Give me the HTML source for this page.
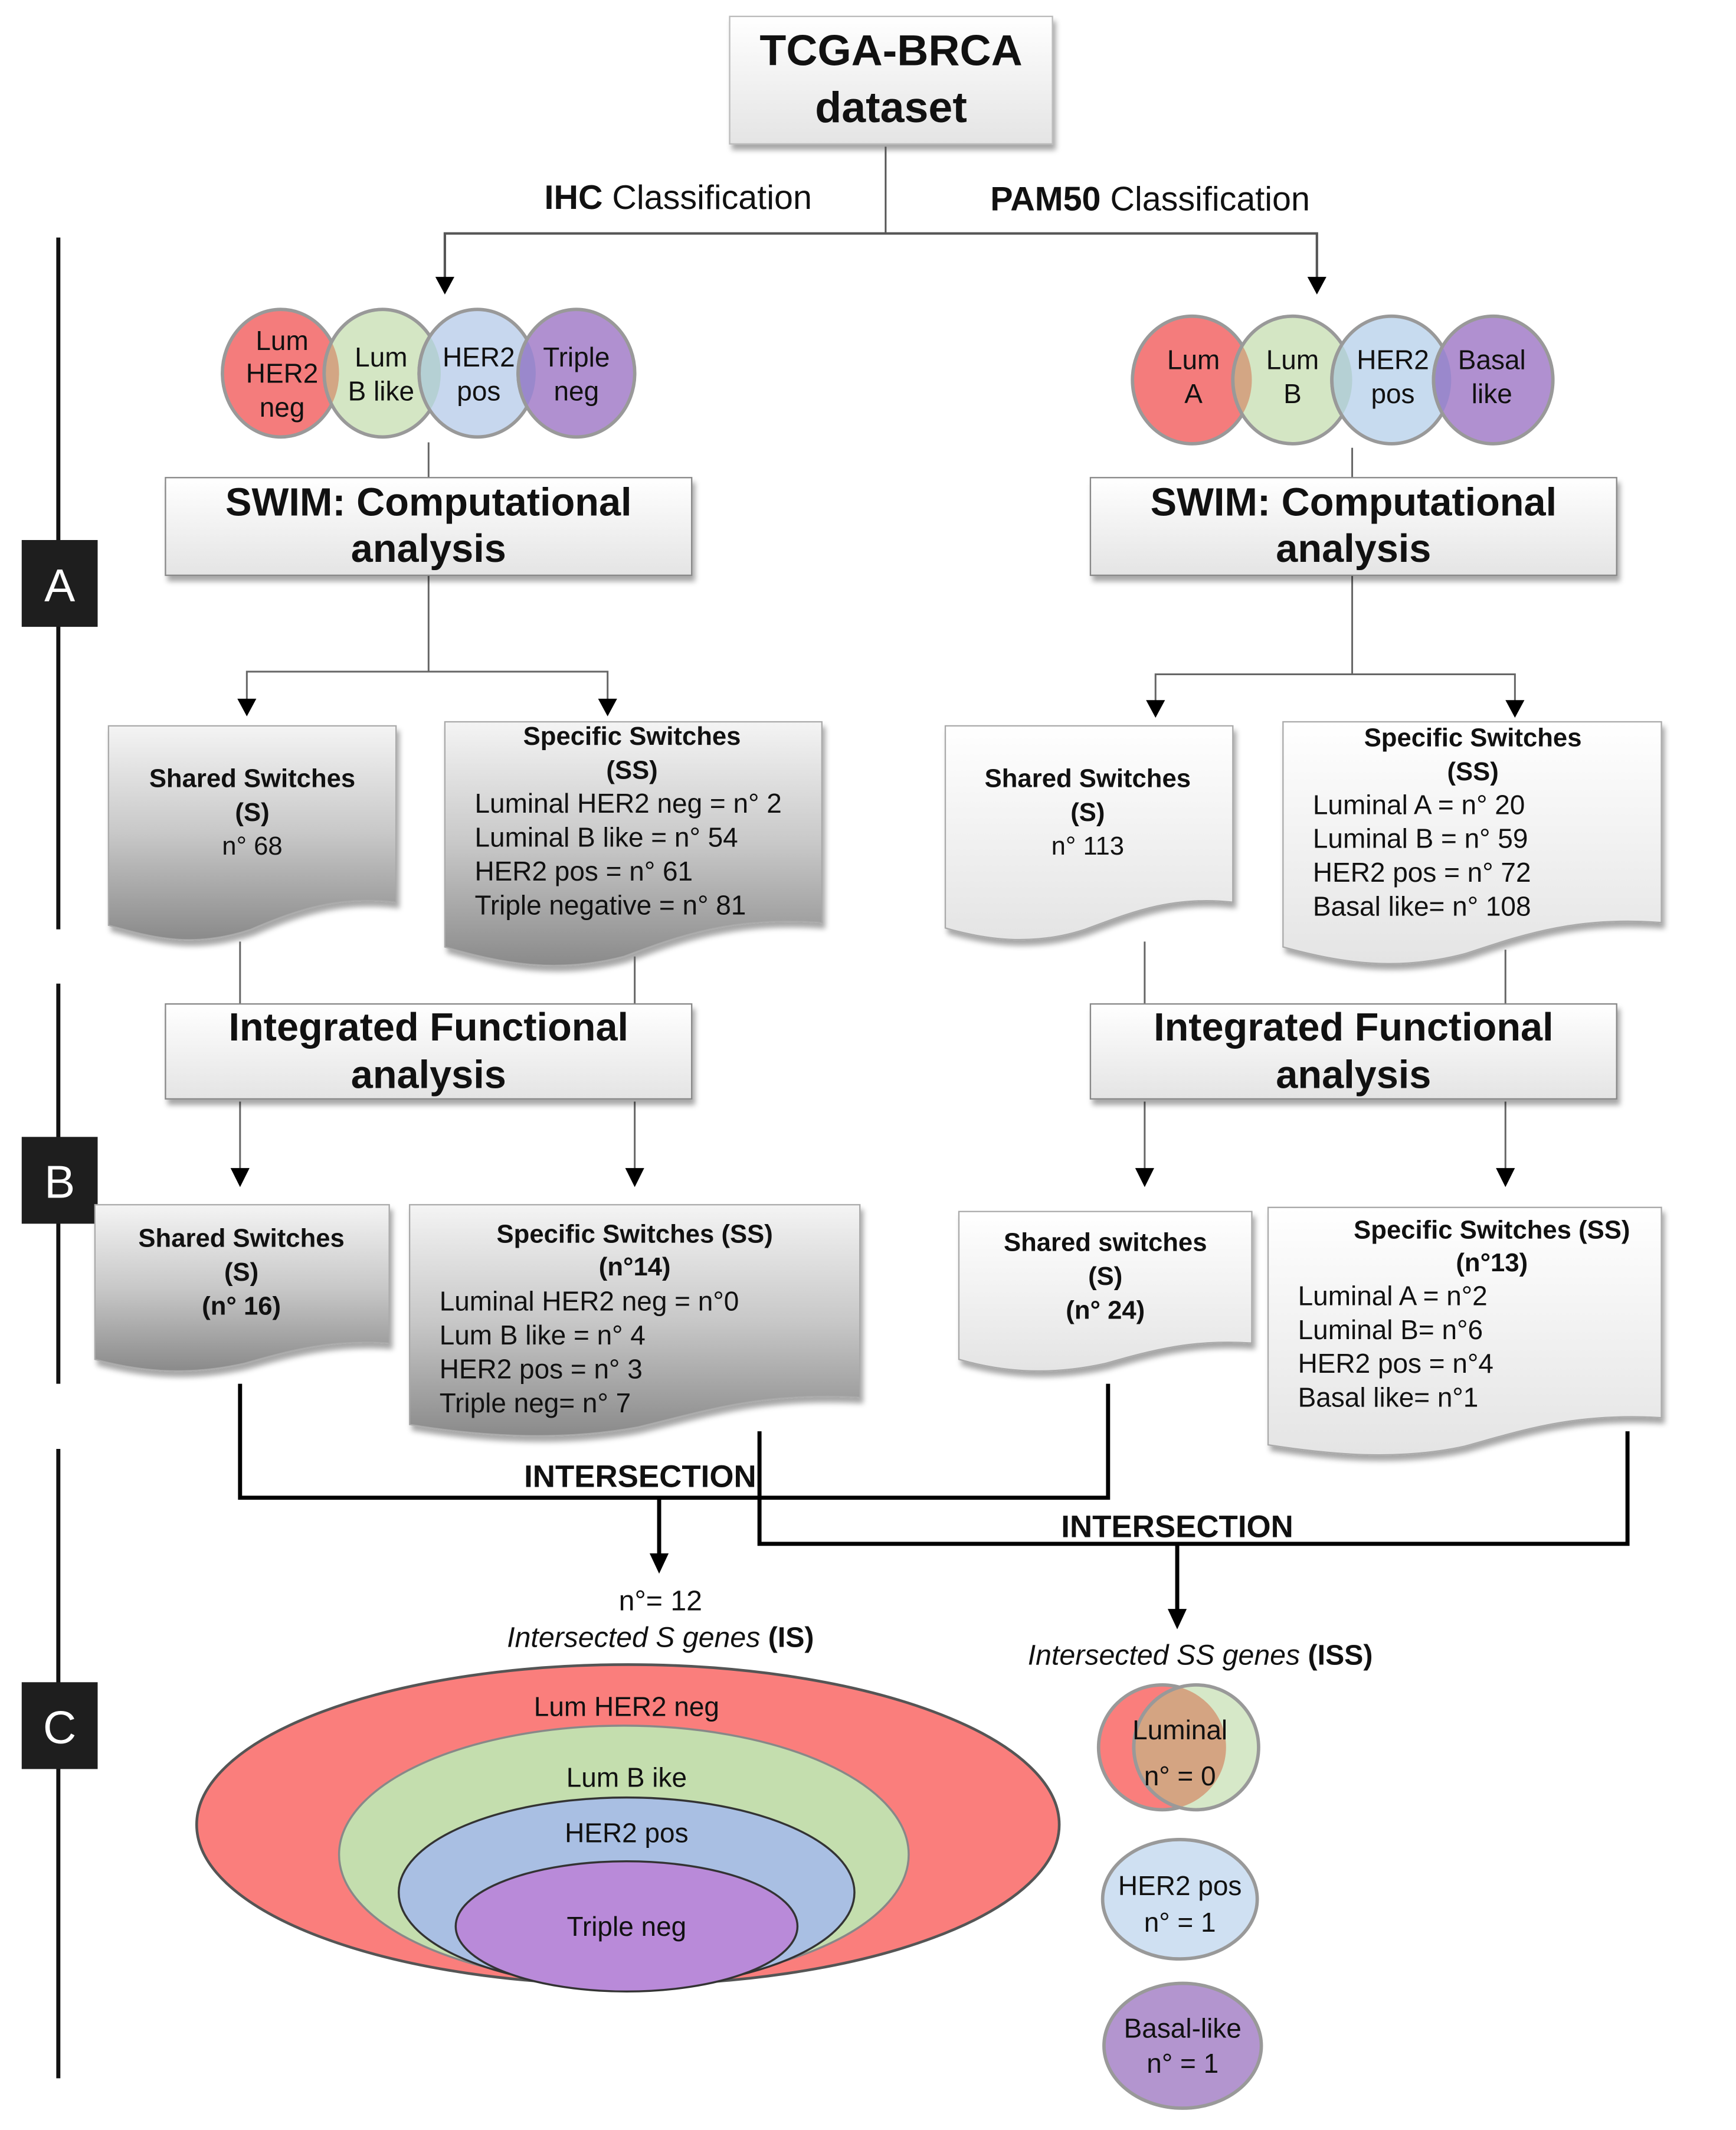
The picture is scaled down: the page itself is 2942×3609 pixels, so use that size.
<!DOCTYPE html>
<html><head><meta charset="utf-8"><style>
html,body{margin:0;padding:0;background:#fff}
svg{display:block}
text{font-family:"Liberation Sans Narrow","Liberation Sans",sans-serif;fill:#111}
.b{font-weight:bold}
</style></head><body>
<svg width="2942" height="3609" viewBox="0 0 1280 1570" xmlns="http://www.w3.org/2000/svg">
<defs>
<linearGradient id="gg" x1="0" y1="0" x2="0" y2="1"><stop offset="0" stop-color="#f4f4f4"/><stop offset="0.5" stop-color="#c8c8c8"/><stop offset="1" stop-color="#8a8a8a"/></linearGradient>
<linearGradient id="lg" x1="0" y1="0" x2="0" y2="1"><stop offset="0" stop-color="#ffffff"/><stop offset="1" stop-color="#e4e4e4"/></linearGradient>
<filter id="sh" x="-5%" y="-5%" width="115%" height="125%"><feDropShadow dx="2" dy="4" stdDeviation="2" flood-color="#000" flood-opacity="0.35"/></filter>
<clipPath id="c1"><ellipse cx="207" cy="275" rx="43" ry="47"/></clipPath>
<clipPath id="c2"><ellipse cx="282" cy="275" rx="43" ry="47"/></clipPath>
<clipPath id="c3"><ellipse cx="352" cy="275" rx="43" ry="47"/></clipPath>
<clipPath id="d1"><ellipse cx="879" cy="280" rx="44" ry="47"/></clipPath>
<clipPath id="d2"><ellipse cx="953" cy="280" rx="44" ry="47"/></clipPath>
<clipPath id="d3"><ellipse cx="1026" cy="280" rx="44" ry="47"/></clipPath>
<clipPath id="v1"><ellipse cx="857" cy="1288" rx="47" ry="46"/></clipPath>
</defs>

<g stroke="#111" stroke-width="3">
<line x1="43" y1="175" x2="43" y2="685"/>
<line x1="43" y1="725" x2="43" y2="1020"/>
<line x1="43" y1="1068" x2="43" y2="1532"/>
</g>
<rect x="16" y="398" width="56" height="64" fill="#1e1e1e"/>
<rect x="16" y="838" width="56" height="64" fill="#1e1e1e"/>
<rect x="16" y="1240" width="56" height="64" fill="#1e1e1e"/>
<text x="44" y="443" font-size="34" text-anchor="middle" style="fill:#fff">A</text>
<text x="44" y="883" font-size="34" text-anchor="middle" style="fill:#fff">B</text>
<text x="44" y="1285" font-size="34" text-anchor="middle" style="fill:#fff">C</text>

<rect x="538" y="12" width="238" height="94" fill="url(#lg)" stroke="#bbb" filter="url(#sh)"/>
<text x="657" y="48" font-size="32" class="b" text-anchor="middle">TCGA-BRCA</text>
<text x="657" y="90" font-size="32" class="b" text-anchor="middle">dataset</text>

<line x1="653" y1="108" x2="653" y2="172" stroke="#555" stroke-width="1.3"/>
<polyline points="328,214 328,172 971,172 971,214" stroke="#555" stroke-width="1.8" fill="none"/>
<path d="M321,204 L335,204 L328,217z M964,204 L978,204 L971,217z"/>
<text x="500" y="154" font-size="25" text-anchor="middle"><tspan class="b">IHC</tspan> Classification</text>
<text x="848" y="155" font-size="25" text-anchor="middle"><tspan class="b">PAM50</tspan> Classification</text>

<!-- circles -->
<g stroke="#999" stroke-width="2.5">
<ellipse cx="207" cy="275" rx="43" ry="47" fill="#f47c7c"/>
<ellipse cx="282" cy="275" rx="43" ry="47" fill="#d4e6c4"/>
<ellipse cx="352" cy="275" rx="43" ry="47" fill="#c7d7ee"/>
<ellipse cx="425" cy="275" rx="43" ry="47" fill="#b090d0"/>
<ellipse cx="879" cy="280" rx="44" ry="47" fill="#f47c7c"/>
<ellipse cx="953" cy="280" rx="44" ry="47" fill="#d4e6c4"/>
<ellipse cx="1026" cy="280" rx="44" ry="47" fill="#c7dbef"/>
<ellipse cx="1101" cy="280" rx="44" ry="47" fill="#b090d0"/>
</g>
<g stroke="#999" stroke-width="2.5">
<ellipse cx="282" cy="275" rx="43" ry="47" fill="#d3a684" clip-path="url(#c1)"/>
<ellipse cx="352" cy="275" rx="43" ry="47" fill="#b5d0d4" clip-path="url(#c2)"/>
<ellipse cx="425" cy="275" rx="43" ry="47" fill="#9a88cc" clip-path="url(#c3)"/>
<ellipse cx="953" cy="280" rx="44" ry="47" fill="#d3a684" clip-path="url(#d1)"/>
<ellipse cx="1026" cy="280" rx="44" ry="47" fill="#b5d0d4" clip-path="url(#d2)"/>
<ellipse cx="1101" cy="280" rx="44" ry="47" fill="#9a88cc" clip-path="url(#d3)"/>
</g>
<g font-size="20" text-anchor="middle">
<text x="208" y="258">Lum</text><text x="208" y="282">HER2</text><text x="208" y="307">neg</text>
<text x="281" y="270">Lum</text><text x="281" y="295">B like</text>
<text x="353" y="270">HER2</text><text x="353" y="295">pos</text>
<text x="425" y="270">Triple</text><text x="425" y="295">neg</text>
<text x="880" y="272">Lum</text><text x="880" y="297">A</text>
<text x="953" y="272">Lum</text><text x="953" y="297">B</text>
<text x="1027" y="272">HER2</text><text x="1027" y="297">pos</text>
<text x="1100" y="272">Basal</text><text x="1100" y="297">like</text>
</g>

<g stroke="#666" stroke-width="1.3" fill="none">
<line x1="316" y1="326" x2="316" y2="352"/>
<line x1="997" y1="330" x2="997" y2="352"/>
<line x1="316" y1="424" x2="316" y2="495"/>
<line x1="997" y1="424" x2="997" y2="497"/>
<polyline points="182,520 182,495 448,495 448,520"/>
<polyline points="852,522 852,497 1117,497 1117,522"/>
</g>
<path d="M175,515 L189,515 L182,528z M441,515 L455,515 L448,528z M845,516 L859,516 L852,529z M1110,516 L1124,516 L1117,529z"/>
<rect x="122" y="352" width="388" height="72" fill="url(#lg)" stroke="#888" filter="url(#sh)"/>
<rect x="804" y="352" width="388" height="72" fill="url(#lg)" stroke="#888" filter="url(#sh)"/>
<text x="316" y="380" font-size="29" class="b" text-anchor="middle">SWIM: Computational</text>
<text x="316" y="414" font-size="29" class="b" text-anchor="middle">analysis</text>
<text x="998" y="380" font-size="29" class="b" text-anchor="middle">SWIM: Computational</text>
<text x="998" y="414" font-size="29" class="b" text-anchor="middle">analysis</text>

<g stroke="#aaa" stroke-width="1" filter="url(#sh)">
<path d="M80,535 H292 V665 C250,660 220,670 185,685 C140,700 110,690 80,682 Z" fill="url(#gg)"/>
<path d="M328,532 H606 V680 C540,675 500,690 460,705 C410,718 370,710 328,698 Z" fill="url(#gg)"/>
<path d="M697,535 H909 V665 C865,660 835,672 800,685 C760,698 725,692 697,684 Z" fill="url(#lg)"/>
<path d="M946,532 H1225 V680 C1160,675 1120,690 1080,703 C1030,716 990,710 946,698 Z" fill="url(#lg)"/>
</g>
<g font-size="19" text-anchor="middle">
<text x="186" y="580" class="b">Shared Switches</text><text x="186" y="605" class="b">(S)</text><text x="186" y="630">n° 68</text>
<text x="466" y="549" class="b">Specific Switches</text><text x="466" y="574" class="b">(SS)</text>
<text x="802" y="580" class="b">Shared Switches</text><text x="802" y="605" class="b">(S)</text><text x="802" y="630">n° 113</text>
<text x="1086" y="550" class="b">Specific Switches</text><text x="1086" y="575" class="b">(SS)</text>
</g>
<g font-size="20">
<text x="350" y="599">Luminal HER2 neg = n° 2</text>
<text x="350" y="624">Luminal B like = n° 54</text>
<text x="350" y="649">HER2 pos = n° 61</text>
<text x="350" y="674">Triple negative = n° 81</text>
<text x="968" y="600">Luminal A = n° 20</text>
<text x="968" y="625">Luminal B = n° 59</text>
<text x="968" y="650">HER2 pos = n° 72</text>
<text x="968" y="675">Basal like= n° 108</text>
</g>

<g stroke="#666" stroke-width="1.3" fill="none">
<line x1="177" y1="694" x2="177" y2="740"/>
<line x1="468" y1="705" x2="468" y2="740"/>
<line x1="844" y1="694" x2="844" y2="740"/>
<line x1="1110" y1="700" x2="1110" y2="740"/>
<line x1="177" y1="812" x2="177" y2="866"/>
<line x1="468" y1="812" x2="468" y2="866"/>
<line x1="844" y1="812" x2="844" y2="866"/>
<line x1="1110" y1="812" x2="1110" y2="866"/>
</g>
<path d="M170,861 L184,861 L177,875z M461,861 L475,861 L468,875z M837,861 L851,861 L844,875z M1103,861 L1117,861 L1110,875z"/>
<rect x="122" y="740" width="388" height="70" fill="url(#lg)" stroke="#888" filter="url(#sh)"/>
<rect x="804" y="740" width="388" height="70" fill="url(#lg)" stroke="#888" filter="url(#sh)"/>
<text x="316" y="767" font-size="29" class="b" text-anchor="middle">Integrated Functional</text>
<text x="316" y="802" font-size="29" class="b" text-anchor="middle">analysis</text>
<text x="998" y="767" font-size="29" class="b" text-anchor="middle">Integrated Functional</text>
<text x="998" y="802" font-size="29" class="b" text-anchor="middle">analysis</text>

<g stroke="#aaa" stroke-width="1" filter="url(#sh)">
<path d="M70,888 H287 V990 C245,987 215,995 180,1005 C135,1015 100,1010 70,1002 Z" fill="url(#gg)"/>
<path d="M302,888 H634 V1030 C560,1026 520,1040 470,1052 C410,1063 350,1058 302,1050 Z" fill="url(#gg)"/>
<path d="M707,893 H923 V990 C880,987 850,995 815,1005 C770,1015 735,1010 707,1002 Z" fill="url(#lg)"/>
<path d="M935,890 H1225 V1045 C1160,1041 1120,1055 1080,1066 C1030,1077 980,1072 935,1065 Z" fill="url(#lg)"/>
</g>
<g font-size="19" text-anchor="middle" class="b">
<text x="178" y="919">Shared Switches</text><text x="178" y="944">(S)</text><text x="178" y="969">(n° 16)</text>
<text x="468" y="916">Specific Switches (SS)</text><text x="468" y="940">(n°14)</text>
<text x="815" y="922">Shared switches</text><text x="815" y="947">(S)</text><text x="815" y="972">(n°  24)</text>
<text x="1100" y="913">Specific Switches (SS)</text><text x="1100" y="937">(n°13)</text>
</g>
<g font-size="20">
<text x="324" y="966">Luminal HER2 neg = n°0</text>
<text x="324" y="991">Lum B like = n° 4</text>
<text x="324" y="1016">HER2 pos = n° 3</text>
<text x="324" y="1041">Triple neg= n° 7</text>
<text x="957" y="962">Luminal A = n°2</text>
<text x="957" y="987">Luminal B= n°6</text>
<text x="957" y="1012">HER2 pos = n°4</text>
<text x="957" y="1037">Basal like= n°1</text>
</g>

<g stroke="#000" stroke-width="3" fill="none">
<polyline points="177,1020 177,1104 817,1104 817,1020"/>
<polyline points="560,1055 560,1138 1200,1138 1200,1055"/>
<line x1="486" y1="1104" x2="486" y2="1148"/>
<line x1="868" y1="1138" x2="868" y2="1188"/>
</g>
<path d="M479,1145 L493,1145 L486,1160z M861,1186 L875,1186 L868,1201z"/>
<text x="472" y="1096" font-size="23" class="b" text-anchor="middle">INTERSECTION</text>
<text x="868" y="1133" font-size="23" class="b" text-anchor="middle">INTERSECTION</text>
<text x="487" y="1187" font-size="21" text-anchor="middle">n°= 12</text>
<text x="487" y="1214" font-size="21" text-anchor="middle"><tspan font-style="italic">Intersected S genes</tspan> <tspan class="b">(IS)</tspan></text>
<text x="885" y="1227" font-size="21" text-anchor="middle"><tspan font-style="italic">Intersected SS genes</tspan> <tspan class="b">(ISS)</tspan></text>

<ellipse cx="463" cy="1345" rx="318" ry="118" fill="#fa7e7c" stroke="#555" stroke-width="2"/>
<ellipse cx="460" cy="1367" rx="210" ry="95" fill="#c4deae" stroke="#888" stroke-width="1.5"/>
<ellipse cx="462" cy="1395" rx="168" ry="70" fill="#a9bfe3" stroke="#333" stroke-width="1.5"/>
<ellipse cx="462" cy="1420" rx="126" ry="48" fill="#b98ad9" stroke="#333" stroke-width="1.5"/>
<g font-size="20" text-anchor="middle">
<text x="462" y="1265">Lum HER2 neg</text>
<text x="462" y="1317">Lum B ike</text>
<text x="462" y="1358">HER2 pos</text>
<text x="462" y="1427">Triple neg</text>
</g>

<g stroke="#999" stroke-width="2.5">
<ellipse cx="857" cy="1288" rx="47" ry="46" fill="#fa7e7c"/>
<ellipse cx="882" cy="1288" rx="46" ry="46" fill="#d6e8c8"/>
<ellipse cx="882" cy="1288" rx="46" ry="46" fill="#d4a482" clip-path="url(#v1)"/>
<ellipse cx="870" cy="1400" rx="57" ry="44" fill="#cfe0f2"/>
<ellipse cx="872" cy="1508" rx="58" ry="46" fill="#b395cf"/>
</g>
<g font-size="20" text-anchor="middle">
<text x="870" y="1282">Luminal</text><text x="870" y="1316">n° =  0</text>
<text x="870" y="1397">HER2 pos</text><text x="870" y="1424">n° = 1</text>
<text x="872" y="1502">Basal-like</text><text x="872" y="1528">n° = 1</text>
</g>
</svg>
</body></html>
